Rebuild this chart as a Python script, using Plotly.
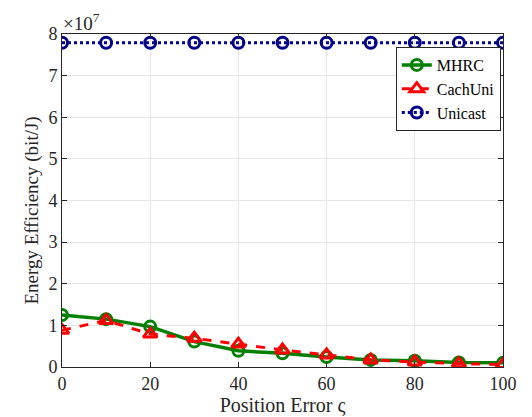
import plotly.graph_objects as go

x = [0, 10, 20, 30, 40, 50, 60, 70, 80, 90, 100]
mhrc = [1.25e7, 1.15e7, 0.97e7, 0.61e7, 0.39e7, 0.33e7, 0.24e7, 0.17e7, 0.15e7, 0.11e7, 0.10e7]
cachuni = [0.88e7, 1.12e7, 0.79e7, 0.69e7, 0.55e7, 0.41e7, 0.29e7, 0.17e7, 0.12e7, 0.08e7, 0.06e7]
unicast = [7.79e7] * 11
ytick_vals = [i * 1e7 for i in range(9)]
ytick_text = [str(i) for i in range(9)]
xtick_vals = [0, 20, 40, 60, 80, 100]

font = "Times New Roman, Liberation Serif, serif"
ink = "#262626"

fig = go.Figure()
fig.add_trace(go.Scatter(x=x, y=mhrc, name="MHRC", mode="lines+markers",
                         line=dict(color="#008000", width=3.5),
                         marker=dict(symbol="circle-open", size=11, color="#008000", line=dict(width=3))))
fig.add_trace(go.Scatter(x=x, y=cachuni, name="CachUni", mode="lines+markers",
                         line=dict(color="#ff0000", width=3, dash="dash"),
                         marker=dict(symbol="triangle-up-open", size=12, color="#ff0000", line=dict(width=3))))
fig.add_trace(go.Scatter(x=x, y=unicast, name="Unicast", mode="lines+markers",
                         line=dict(color="#00008b", width=3, dash="dot"),
                         marker=dict(symbol="circle-open", size=11, color="#00008b", line=dict(width=3))))

axis_common = dict(showline=True, linecolor=ink, linewidth=1, mirror="ticks",
                   ticks="inside", ticklen=5, tickcolor=ink,
                   showgrid=True, gridcolor="#e6e6e6", gridwidth=1, zeroline=False,
                   automargin=False,
                   tickfont=dict(family=font, size=18, color=ink))

fig.update_xaxes(range=[0, 100], tickvals=xtick_vals,
                 title=dict(text="Position Error ς", font=dict(family=font, size=20, color=ink), standoff=0),
                 **axis_common)
fig.update_yaxes(range=[0, 8e7], tickvals=ytick_vals, ticktext=ytick_text, **axis_common)

fig.add_annotation(text="Energy Efficiency (bit/J)", textangle=-90, xref="paper", yref="paper",
                   x=-0.068, y=0.47, xanchor="center", yanchor="middle", showarrow=False,
                   font=dict(family=font, size=19, color=ink))

fig.add_annotation(text="×10<sup>7</sup>", xref="paper", yref="paper", x=0.0, y=1.0,
                   xanchor="left", yanchor="bottom", showarrow=False, xshift=-1, yshift=-2,
                   font=dict(family=font, size=19, color=ink))

# page body has an 8px margin, so the figure is sized/offset to compensate
fig.update_layout(width=524, height=409, margin=dict(l=54, r=29, t=26, b=50),
                  plot_bgcolor="white", paper_bgcolor="white",
                  legend=dict(x=0.995, y=0.961, xanchor="right", yanchor="top",
                              bordercolor=ink, borderwidth=1, bgcolor="white",
                              font=dict(family=font, size=16, color="#000000"),
                              tracegroupgap=0, itemwidth=30))

fig.write_html("out.html")
